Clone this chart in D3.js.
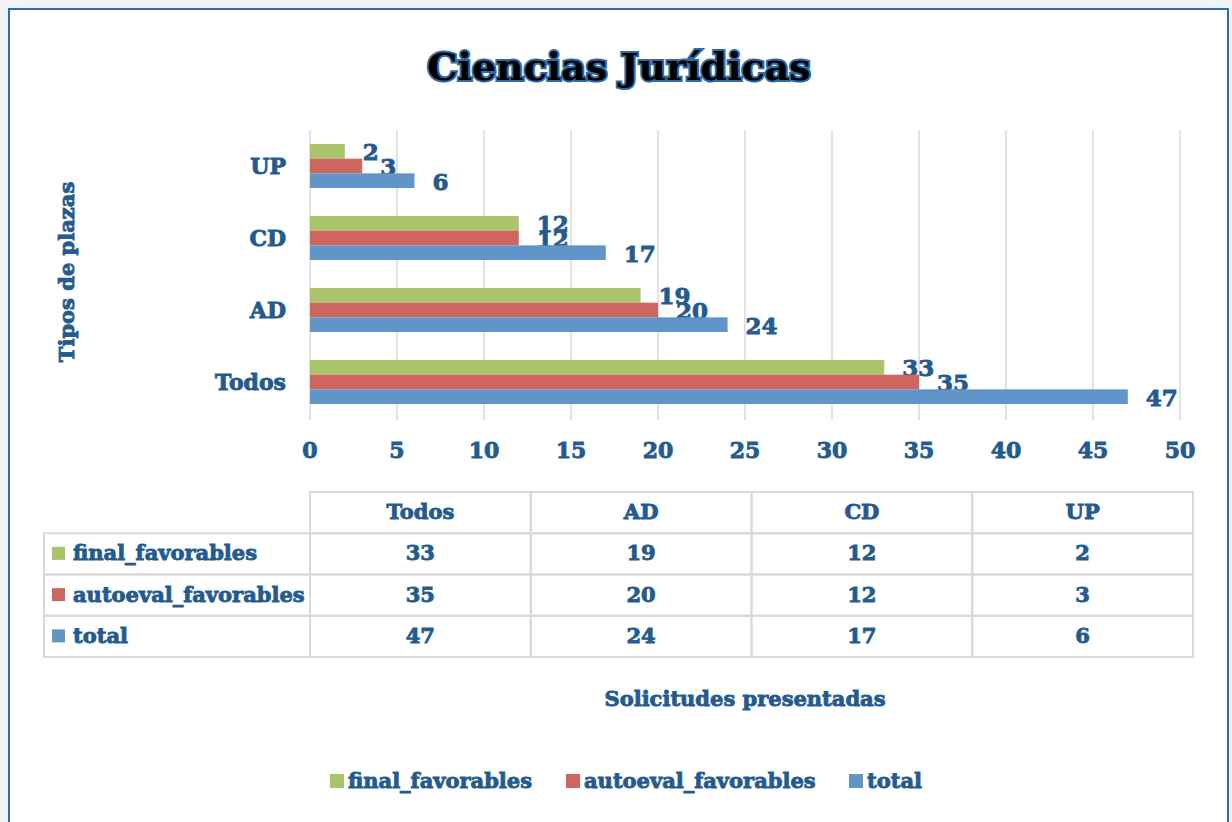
<!DOCTYPE html>
<meta charset="utf-8">
<head>
  <title>Ciencias Jurídicas</title>
  <style>
    html, body { margin: 0; padding: 0; background: #eef2f9; }
    svg text { font-family: "DejaVu Serif", serif; font-weight: bold; }
  </style>
</head>
<body>
<script src="https://d3js.org/d3.v7.min.js"></script>
<div id="chart"></div>
<script>

// data
var categories = ["Todos", "AD", "CD", "UP"];
var seriesNames = ["final_favorables", "autoeval_favorables", "total"];
var finalFavorables = [33, 19, 12, 2];
var autoevalFavorables = [35, 20, 12, 3];
var totalValues = [47, 24, 17, 6];
var xTicks = [0, 5, 10, 15, 20, 25, 30, 35, 40, 45, 50];

var colors = ["#a9c46b", "#cc665f", "#6195c7"];
var textBlue = "#245a8d";

var width = 1232, height = 822;

var series = [finalFavorables, autoevalFavorables, totalValues];

var svg = d3.select("#chart").append("svg")
    .attr("width", width)
    .attr("height", height);

// frame
svg.append("rect")
    .attr("x", 9).attr("y", 9)
    .attr("width", 1219).attr("height", 830)
    .attr("fill", "#fff")
    .attr("stroke", "#2f6aa5")
    .attr("stroke-width", 2);

// heavy blue text, a bit like the excel glow
function glowText(sel) {
  return sel.attr("fill", textBlue)
    .attr("stroke", "#2a6299")
    .attr("stroke-width", 0.9)
    .attr("paint-order", "stroke");
}

// title
svg.append("text")
    .attr("x", 619).attr("y", 80)
    .attr("text-anchor", "middle")
    .style("font-size", "38px")
    .attr("fill", "#000")
    .attr("stroke", "#2f6aa5")
    .attr("stroke-width", 4)
    .attr("paint-order", "stroke")
    .text("Ciencias Jurídicas");

// scales
var x = d3.scaleLinear().domain([0, 50]).range([310, 1180]);

var y = d3.scaleBand()
    .domain(categories.slice().reverse())
    .range([130, 418])
    .paddingInner(0.39)
    .paddingOuter(0.195);

var ySub = d3.scaleBand()
    .domain(seriesNames)
    .range([0, y.bandwidth()]);

// gridlines
svg.append("g").selectAll("line")
  .data(xTicks)
  .enter().append("line")
    .attr("x1", function(d) { return x(d); })
    .attr("x2", function(d) { return x(d); })
    .attr("y1", 130).attr("y2", 420)
    .attr("stroke", "#d9d9d9")
    .attr("stroke-width", 1.5);

// bars
seriesNames.forEach(function(name, si) {
  var g = svg.append("g");
  g.selectAll("rect")
    .data(series[si])
    .enter().append("rect")
      .attr("x", x(0))
      .attr("y", function(d, i) { return y(categories[i]) + ySub(name); })
      .attr("width", function(d) { return x(d) - x(0); })
      .attr("height", ySub.bandwidth())
      .attr("fill", colors[si]);

  g.selectAll("text")
    .data(series[si])
    .enter().append("text")
      .attr("x", function(d) { return x(d) + 18; })
      .attr("y", function(d, i) { return y(categories[i]) + ySub(name) + ySub.bandwidth() / 2 + 3; })
      .attr("dominant-baseline", "middle")
      .style("font-size", "23px")
      .call(glowText)
      .text(function(d) { return d; });
});

// axis tick labels
svg.append("g").selectAll("text")
  .data(xTicks)
  .enter().append("text")
    .attr("x", function(d) { return x(d); })
    .attr("y", 452)
    .attr("text-anchor", "middle")
    .attr("dominant-baseline", "middle")
    .style("font-size", "22px")
    .call(glowText)
    .text(function(d) { return d; });

// category labels
svg.append("g").selectAll("text")
  .data(categories)
  .enter().append("text")
    .attr("x", 286)
    .attr("y", function(d) { return y(d) + y.bandwidth() / 2 + 2; })
    .attr("text-anchor", "end")
    .attr("dominant-baseline", "middle")
    .style("font-size", "22px")
    .call(glowText)
    .text(function(d) { return d; });

// axis titles
svg.append("text")
    .attr("transform", "translate(68,272) rotate(-90)")
    .attr("text-anchor", "middle")
    .attr("dominant-baseline", "middle")
    .style("font-size", "21px")
    .call(glowText)
    .text("Tipos de plazas");

svg.append("text")
    .attr("x", 745).attr("y", 700)
    .attr("text-anchor", "middle")
    .attr("dominant-baseline", "middle")
    .style("font-size", "21px")
    .call(glowText)
    .text("Solicitudes presentadas");

// data table
var colX = d3.scaleBand().domain(categories).range([310, 1193]);
var rowY = d3.scaleBand().domain(["head"].concat(seriesNames)).range([492, 657]);
var table = svg.append("g").attr("stroke", "#d9d9d9").attr("stroke-width", 2).attr("fill", "none");

// header cells
categories.forEach(function(c) {
  table.append("rect")
    .attr("x", colX(c)).attr("y", rowY("head"))
    .attr("width", colX.bandwidth()).attr("height", rowY.bandwidth());
});
// data rows
seriesNames.forEach(function(s) {
  table.append("rect")
    .attr("x", 44).attr("y", rowY(s))
    .attr("width", 310 - 44).attr("height", rowY.bandwidth());
  categories.forEach(function(c) {
    table.append("rect")
      .attr("x", colX(c)).attr("y", rowY(s))
      .attr("width", colX.bandwidth()).attr("height", rowY.bandwidth());
  });
});

svg.append("g").selectAll("text")
  .data(categories)
  .enter().append("text")
    .attr("x", function(d) { return colX(d) + colX.bandwidth() / 2; })
    .attr("y", rowY("head") + rowY.bandwidth() / 2 + 1)
    .attr("text-anchor", "middle")
    .attr("dominant-baseline", "middle")
    .style("font-size", "21px")
    .call(glowText)
    .text(function(d) { return d; });

seriesNames.forEach(function(s, si) {
  var cy = rowY(s) + rowY.bandwidth() / 2 + 1;
  svg.append("rect")
    .attr("x", 52).attr("y", cy - 8)
    .attr("width", 13).attr("height", 13)
    .attr("fill", colors[si]);
  svg.append("text")
    .attr("x", 73).attr("y", cy)
    .attr("dominant-baseline", "middle")
    .style("font-size", "21px")
    .call(glowText)
    .text(s);
  svg.append("g").selectAll("text")
    .data(series[si])
    .enter().append("text")
      .attr("x", function(d, i) { return colX(categories[i]) + colX.bandwidth() / 2; })
      .attr("y", cy)
      .attr("text-anchor", "middle")
      .attr("dominant-baseline", "middle")
      .style("font-size", "21px")
      .call(glowText)
      .text(function(d) { return d; });
});

// legend
var legendX = [330, 566, 849];
var legend = svg.append("g").selectAll("g")
  .data(seriesNames)
  .enter().append("g")
    .attr("transform", function(d, i) { return "translate(" + legendX[i] + ",782)"; });
legend.append("rect")
  .attr("x", 0).attr("y", -8)
  .attr("width", 14).attr("height", 14)
  .attr("fill", function(d, i) { return colors[i]; });
legend.append("text")
  .attr("x", 18).attr("y", 0)
  .attr("dominant-baseline", "middle")
  .style("font-size", "21px")
  .call(glowText)
  .text(function(d) { return d; });

</script>
</body>
